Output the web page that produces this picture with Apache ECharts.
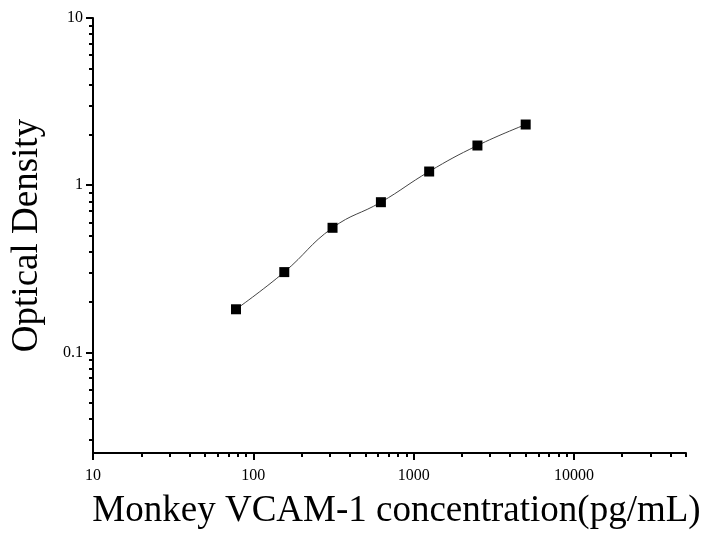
<!DOCTYPE html>
<html>
<head>
<meta charset="utf-8">
<script src="https://cdn.jsdelivr.net/npm/echarts@6/dist/echarts.min.js"></script>
<style>
  html, body { margin: 0; padding: 0; background: #fff; }
  #chart { width: 704px; height: 535px; }
</style>
</head>
<body>
<div id="chart"></div>
<script>
// standard concentrations (pg/mL) and measured OD
const concentrations = [78, 156, 312, 625, 1250, 2500, 5000]
const opticalDensity = [0.181, 0.302, 0.556, 0.791, 1.207, 1.727, 2.306]

// axis ticks
const xMajorTicks = [10, 100, 1000, 10000]
const xMinorTicks = [20, 30, 40, 50, 60, 70, 80, 90, 200, 300, 400, 500, 600, 700, 800, 900,
  2000, 3000, 4000, 5000, 6000, 7000, 8000, 9000, 20000, 30000, 40000, 50000]
const yMajorTicks = [0.1, 1, 10]
const yMinorTicks = [0.03, 0.04, 0.05, 0.06, 0.07, 0.08, 0.09, 0.2, 0.3, 0.4, 0.5, 0.6, 0.7, 0.8, 0.9,
  2, 3, 4, 5, 6, 7, 8, 9]

const font = 'Liberation Serif'
const fmt = v => String(Number(v.toPrecision(6)))

const chart = echarts.init(document.getElementById('chart'))

const axisLine = { show: true, lineStyle: { color: '#000', width: 2 } }
const tickLine = { color: '#000', width: 2 }

chart.setOption({
  animation: false,
  grid: { left: 93, right: 18, top: 18, bottom: 82 },
  xAxis: [
    {
      type: 'log',
      min: 10,
      max: 50000,
      position: 'bottom',
      name: 'Monkey VCAM-1 concentration(pg/mL)',
      nameLocation: 'middle',
      nameGap: 58,
      nameTextStyle: { fontFamily: font, fontSize: 37, color: '#000', verticalAlign: 'middle', padding: [0, 0, 0, 14] },
      axisLine: axisLine,
      axisTick: { show: true, length: 7, customValues: xMajorTicks, lineStyle: tickLine },
      axisLabel: { customValues: xMajorTicks, formatter: fmt, margin: 15, fontFamily: font, fontSize: 16, color: '#000' },
      splitLine: { show: false }
    },
    {
      type: 'log',
      min: 10,
      max: 50000,
      position: 'bottom',
      axisLine: { show: false },
      axisTick: { show: true, length: 4, customValues: xMinorTicks, lineStyle: tickLine },
      axisLabel: { show: false },
      splitLine: { show: false }
    }
  ],
  yAxis: [
    {
      type: 'log',
      min: 0.025,
      max: 10,
      position: 'left',
      name: 'Optical Density',
      nameLocation: 'middle',
      nameGap: 66,
      nameTextStyle: { fontFamily: font, fontSize: 37, color: '#000', verticalAlign: 'middle' },
      axisLine: axisLine,
      axisTick: { show: true, length: 7, customValues: yMajorTicks, lineStyle: tickLine },
      axisLabel: { customValues: yMajorTicks, formatter: fmt, margin: 10, fontFamily: font, fontSize: 16, color: '#000' },
      splitLine: { show: false }
    },
    {
      type: 'log',
      min: 0.025,
      max: 10,
      position: 'left',
      axisLine: { show: false },
      axisTick: { show: true, length: 4, customValues: yMinorTicks, lineStyle: tickLine },
      axisLabel: { show: false },
      splitLine: { show: false }
    }
  ],
  series: [
    {
      type: 'line',
      xAxisIndex: 0,
      yAxisIndex: 0,
      data: concentrations.map((c, i) => [c, opticalDensity[i]]),
      smooth: 0.45,
      symbol: 'rect',
      symbolSize: 10,
      itemStyle: { color: '#000' },
      lineStyle: { color: '#444', width: 1 }
    }
  ]
})
</script>
</body>
</html>
